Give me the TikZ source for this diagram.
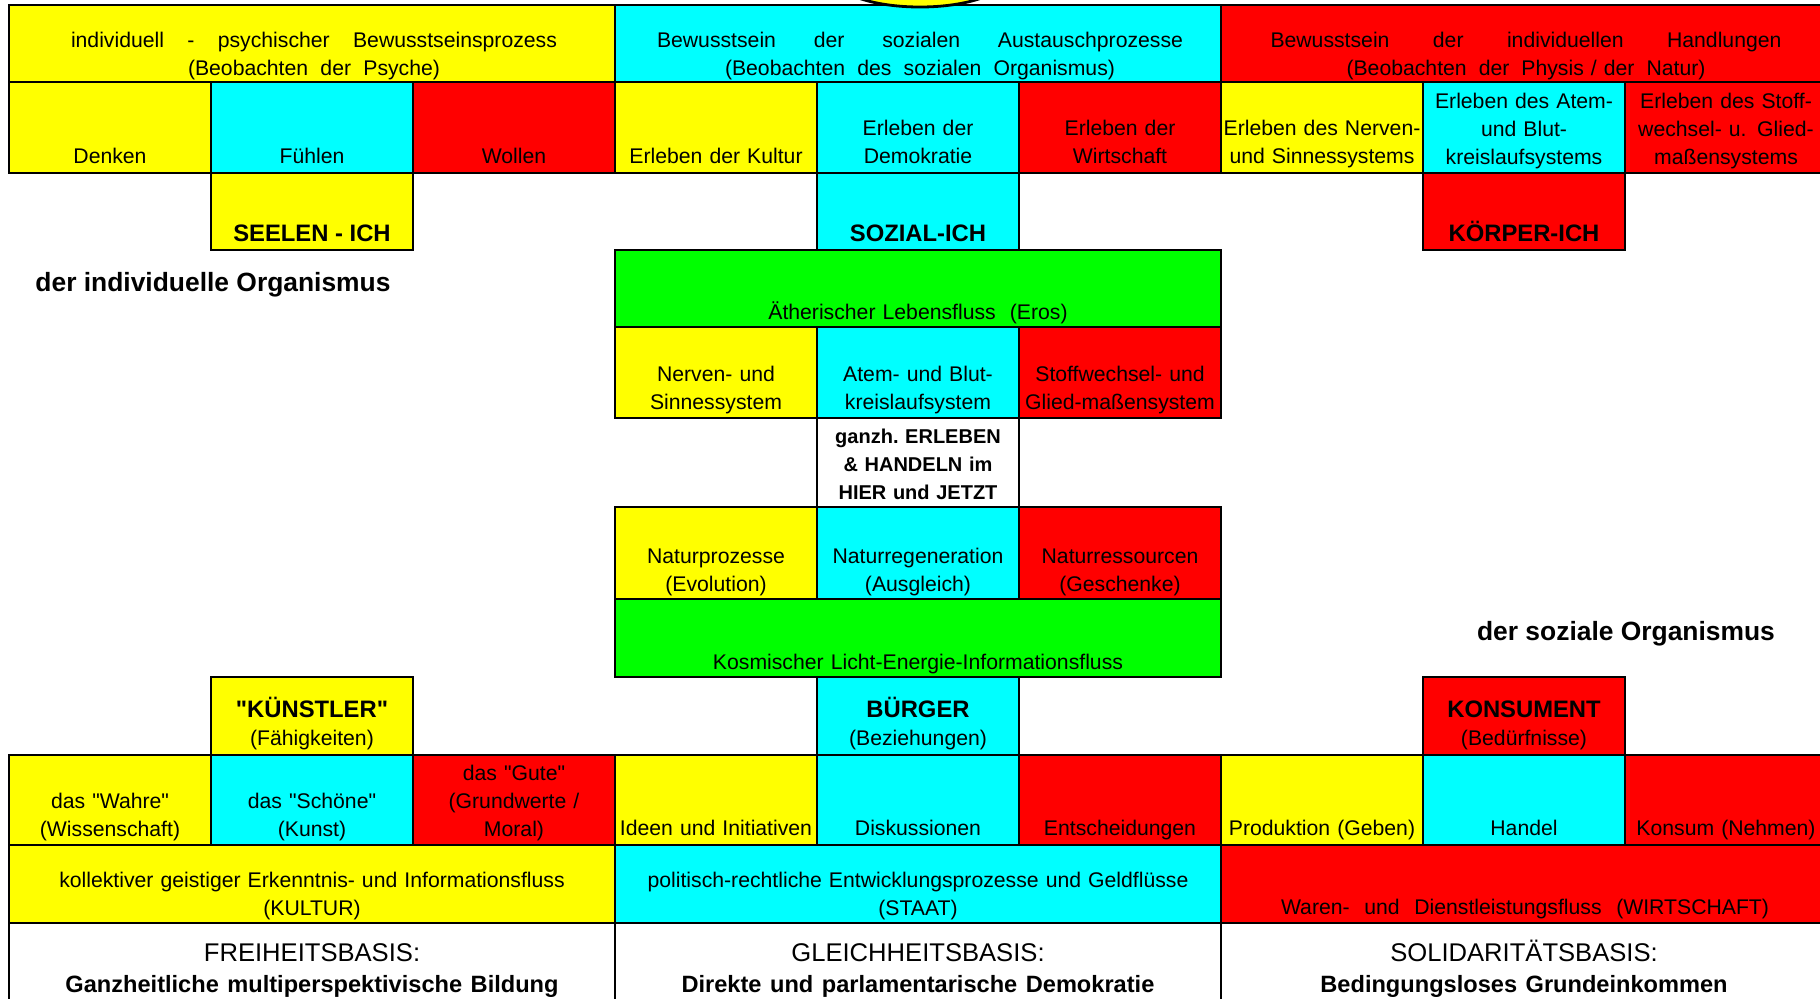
\documentclass[tikz,border=0pt]{standalone}
\usepackage{fontspec}
\setmainfont{Liberation Sans}[Ligatures=TeXOff]

\definecolor{gelb}{RGB}{255,255,0}
\definecolor{tuerkis}{RGB}{0,255,255}
\definecolor{rot}{RGB}{255,0,0}
\definecolor{gruen}{RGB}{0,255,0}

\tikzset{
  feld/.style={draw=black, line width=1.4pt},
  txt/.style={inner sep=0pt, anchor=base, font=\fontsize{10.6}{14}\selectfont},
  zelle/.style={txt, align=center, text width=101pt},
  band/.style={txt, align=center, text width=303pt},
  ich/.style={txt, font=\bfseries\fontsize{11.9}{14}\selectfont},
  titel/.style={txt, font=\bfseries\fontsize{13.2}{16}\selectfont},
}

\begin{document}
\begin{tikzpicture}[x=0.5pt,y=-0.5pt]
\clip (0,0) rectangle (1820,998);
\fill[white] (0,0) rectangle (1820,998);

% Kopfzeile: drei Bewusstseinsebenen
\draw[feld, fill=gelb] (9,5) rectangle (615,82);
\draw[feld, fill=tuerkis] (615,5) rectangle (1221,82);
\draw[feld, fill=rot] (1221,5) rectangle (1827,82);
\node[band] (kopf-psyche) at (314,47) {\makebox[243pt][s]{individuell\hfill-\hfill psychischer\hfill Bewusstseinsprozess}\\\makebox[126pt][s]{(Beobachten\hfill der\hfill Psyche)}};
\node[band] (kopf-sozial) at (920,47) {\makebox[263pt][s]{Bewusstsein\hfill der\hfill sozialen\hfill Austauschprozesse}\\\makebox[195pt][s]{(Beobachten\hfill des\hfill sozialen\hfill Organismus)}};
\node[band] (kopf-physis) at (1526,47) {\makebox[255.5pt][s]{Bewusstsein\hfill der\hfill individuellen\hfill Handlungen}\\\makebox[179.5pt][s]{(Beobachten\hfill der\hfill Physis~/~der\hfill Natur)}};

% Erleben
\foreach \xa/\farbe in {9/gelb,211/tuerkis,413/rot,615/gelb,817/tuerkis,1019/rot,1221/gelb,1423/tuerkis,1625/rot}
  \draw[feld, fill=\farbe] (\xa,82) rectangle ++(202,91);
\node[zelle] (denken) at (110,163) {Denken};
\node[zelle] (fuehlen) at (312,163) {Fühlen};
\node[zelle] (wollen) at (514,163) {Wollen};
\node[zelle] (kultur) at (716,163) {Erleben der Kultur};
\node[zelle] (demokratie) at (918,135) {Erleben der\\Demokratie};
\node[zelle] (wirtschaft) at (1120,135) {Erleben der\\Wirtschaft};
\node[zelle] (nerven) at (1322,135) {Erleben des Nerven-\\und Sinnessystems};
\node[zelle] (atem) at (1524,108) {Erleben des Atem-\\und Blut-\\kreislaufsystems};
\node[zelle] (stoff) at (1726,108) {Erleben des Stoff-\\wechsel- u. Glied-\\maßensystems};

% die drei ICH
\draw[feld, fill=gelb] (211,173) rectangle ++(202,77);
\draw[feld, fill=tuerkis] (817,173) rectangle ++(202,77);
\draw[feld, fill=rot] (1423,173) rectangle ++(202,77);
\node[ich] (seelenich) at (312,241) {SEELEN - ICH};
\node[ich] (sozialich) at (918,241) {SOZIAL-ICH};
\node[ich] (koerperich) at (1524,241) {KÖRPER-ICH};
\node[titel] (indorg) at (213,291) {der individuelle Organismus};

% Mitte: Lebensfluss, Systeme, Natur
\draw[feld, fill=gruen] (615,250) rectangle (1221,327);
\node[band] (eros) at (918,319) {Ätherischer Lebensfluss\ \ (Eros)};
\draw[feld, fill=gelb] (615,327) rectangle ++(202,91);
\draw[feld, fill=tuerkis] (817,327) rectangle ++(202,91);
\draw[feld, fill=rot] (1019,327) rectangle ++(202,91);
\node[zelle] (nervsys) at (716,381) {Nerven- und\\Sinnessystem};
\node[zelle] (atemsys) at (918,381) {Atem- und Blut-\\kreislaufsystem};
\node[zelle] (stoffsys) at (1120,381) {Stoffwechsel- und\\Glied-maßensystem};

\draw[feld, fill=white] (817,418) rectangle (1019,507);
\node[zelle, font=\bfseries\fontsize{10}{14}\selectfont] (hierjetzt) at (918,443) {ganzh.\ ERLEBEN\\\& HANDELN im\\HIER und JETZT};

\draw[feld, fill=gelb] (615,507) rectangle ++(202,92);
\draw[feld, fill=tuerkis] (817,507) rectangle ++(202,92);
\draw[feld, fill=rot] (1019,507) rectangle ++(202,92);
\node[zelle] (naturproz) at (716,563) {Naturprozesse\\(Evolution)};
\node[zelle] (naturreg) at (918,563) {Naturregeneration\\(Ausgleich)};
\node[zelle] (naturres) at (1120,563) {Naturressourcen\\(Geschenke)};

\draw[feld, fill=gruen] (615,599) rectangle (1221,677);
\node[band] (kosmos) at (918,669) {Kosmischer Licht-Energie-Informationsfluss};
\node[titel] (sozorg) at (1626,640) {der soziale Organismus};

% Rollen
\draw[feld, fill=gelb] (211,677) rectangle ++(202,78);
\draw[feld, fill=tuerkis] (817,677) rectangle ++(202,78);
\draw[feld, fill=rot] (1423,677) rectangle ++(202,78);
\node[zelle] (kuenstler) at (312,717) {{\bfseries\fontsize{11.9}{14}\selectfont "KÜNSTLER"}\\(Fähigkeiten)};
\node[zelle] (buerger) at (918,717) {{\bfseries\fontsize{11.9}{14}\selectfont BÜRGER}\\(Beziehungen)};
\node[zelle] (konsument) at (1524,717) {{\bfseries\fontsize{11.9}{14}\selectfont KONSUMENT}\\(Bedürfnisse)};

% Tätigkeiten
\foreach \xa/\farbe in {9/gelb,211/tuerkis,413/rot,615/gelb,817/tuerkis,1019/rot,1221/gelb,1423/tuerkis,1625/rot}
  \draw[feld, fill=\farbe] (\xa,755) rectangle ++(202,90);
\node[zelle] (wahre) at (110,808) {das "Wahre"\\(Wissenschaft)};
\node[zelle] (schoene) at (312,808) {das "Schöne"\\(Kunst)};
\node[zelle] (gute) at (514,780) {das "Gute"\\(Grundwerte /\\Moral)};
\node[zelle] (ideen) at (716,835) {Ideen und Initiativen};
\node[zelle] (diskussion) at (918,835) {Diskussionen};
\node[zelle] (entscheid) at (1120,835) {Entscheidungen};
\node[zelle] (produktion) at (1322,835) {Produktion (Geben)};
\node[zelle] (handel) at (1524,835) {Handel};
\node[zelle] (konsum) at (1726,835) {Konsum (Nehmen)};

% Fluesse
\draw[feld, fill=gelb] (9,845) rectangle (615,923);
\draw[feld, fill=tuerkis] (615,845) rectangle (1221,923);
\draw[feld, fill=rot] (1221,845) rectangle (1827,923);
\node[band] (kulturfluss) at (312,887) {kollektiver geistiger Erkenntnis- und Informationsfluss\\(KULTUR)};
\node[band] (staatfluss) at (918,887) {politisch-rechtliche Entwicklungsprozesse und Geldflüsse\\(STAAT)};
\node[band] (warenfluss) at (1525,914) {\makebox[244pt][s]{Waren-\hfill und\hfill Dienstleistungsfluss\hfill (WIRTSCHAFT)}};

% Basis
\draw[feld, fill=white] (9,923) rectangle (615,1010);
\draw[feld, fill=white] (615,923) rectangle (1221,1010);
\draw[feld, fill=white] (1221,923) rectangle (1827,1010);
\node[band, font=\fontsize{12.8}{15.5}\selectfont] (freiheit) at (312,961) {FREIHEITSBASIS:\\{\bfseries\fontsize{11.8}{15.5}\selectfont Ganzheitliche multiperspektivische Bildung}};
\node[band, font=\fontsize{12.8}{15.5}\selectfont] (gleichheit) at (918,961) {GLEICHHEITSBASIS:\\{\bfseries\fontsize{11.8}{15.5}\selectfont Direkte und parlamentarische Demokratie}};
\node[band, font=\fontsize{12.8}{15.5}\selectfont] (solidaritaet) at (1524,961) {SOLIDARITÄTSBASIS:\\{\bfseries\fontsize{11.8}{15.5}\selectfont Bedingungsloses Grundeinkommen}};

% Ellipse oben
\draw[fill=gelb, line width=1.4pt] (920,-22) ellipse [x radius=85, y radius=29];
\end{tikzpicture}
\end{document}
